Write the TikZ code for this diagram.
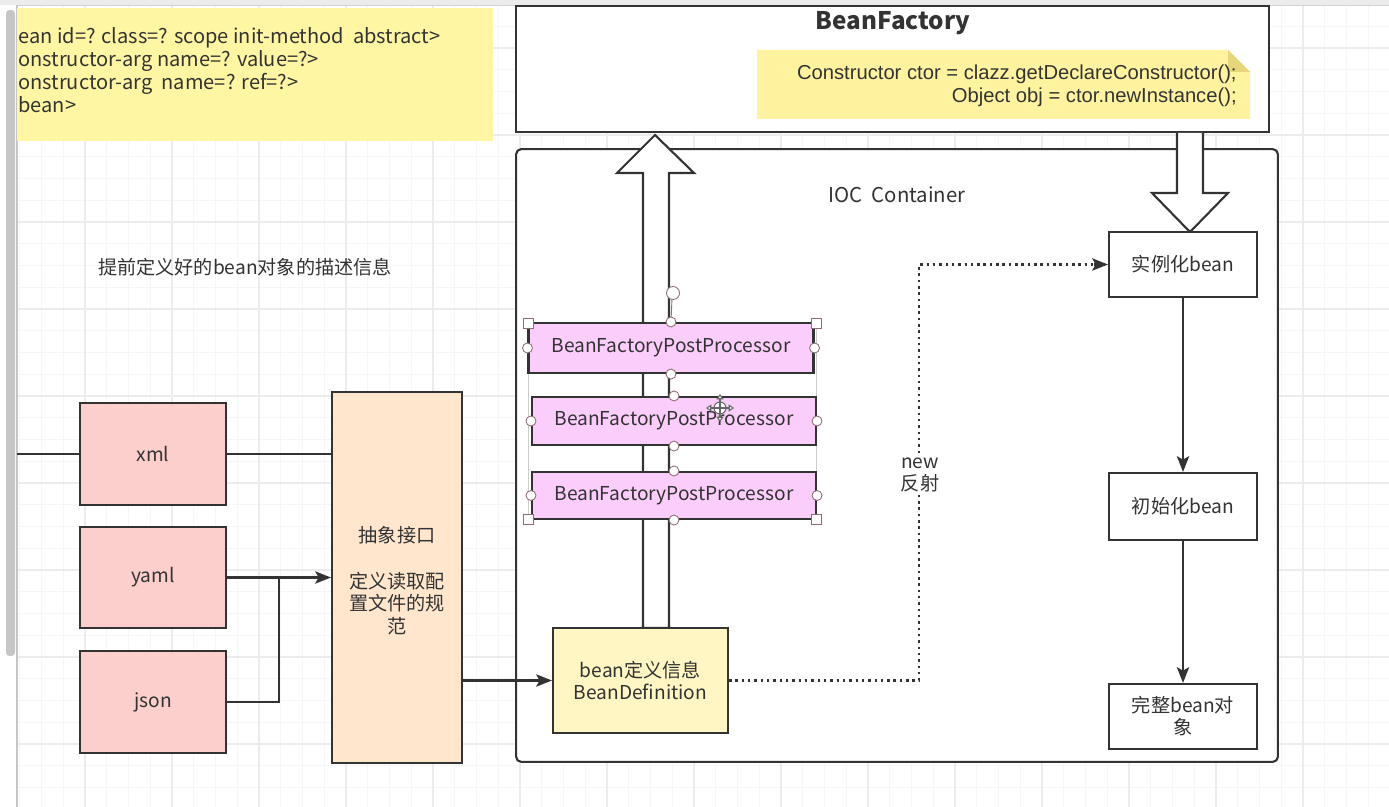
\documentclass[tikz,border=0pt]{standalone}
\usepackage{fontspec}
\setmainfont{Noto Sans CJK SC}
\newfontfamily\codefont{Liberation Sans}
\usetikzlibrary{arrows.meta,calc}
\definecolor{ln}{HTML}{333333}
\definecolor{txt}{HTML}{333333}
\definecolor{notey}{HTML}{FFF6A3}
\definecolor{notey2}{HTML}{FFF3A0}
\definecolor{foldy}{HTML}{E6D77A}
\definecolor{defy}{HTML}{FFF6C4}
\definecolor{pinkp}{HTML}{FACDFA}
\definecolor{pinkr}{HTML}{FCCFCC}
\definecolor{peach}{HTML}{FFE6CC}
\definecolor{gminor}{HTML}{F6F6F6}
\definecolor{gmajor}{HTML}{ECECEC}
\definecolor{handle}{HTML}{8C7070}
\tikzset{
  box/.style={draw=ln, line width=1.2pt, inner sep=0pt, align=center, text=txt},
  conn/.style={draw=ln, line width=1.2pt},
  arr/.style={conn, -{Stealth[length=9pt,width=7pt,inset=2pt]}},
  dotline/.style={draw=ln, line width=1.4pt, dash pattern=on 1.4pt off 2.2pt},
  hollow/.style={draw=ln, line width=1.2pt, fill=white, line join=miter},
  hcirc/.style={circle, draw=handle, fill=white, line width=0.5pt, minimum size=0.2cm, inner sep=0pt},
  hsq/.style={rectangle, draw=handle, fill=white, line width=0.5pt, minimum size=0.2cm, inner sep=0pt},
  fs/.style={font=\fontsize{10.9}{13}\selectfont}
}
\begin{document}
\begin{tikzpicture}[x=0.02cm,y=-0.02cm, fs]
\useasboundingbox (0,0) rectangle (1389,807);
\fill[white] (0,0) rectangle (1389,807);
% grid
\foreach \k in {-3,...,59} {
  \pgfmathsetmacro\xx{85+21.75*\k}
  \draw[gminor, line width=0.5pt] (\xx,5) -- (\xx,807);
}
\foreach \k in {-9,...,26} {
  \pgfmathsetmacro\yy{222+21.75*\k}
  \draw[gminor, line width=0.5pt] (17,\yy) -- (1389,\yy);
}
\foreach \k in {0,...,15} {
  \pgfmathsetmacro\xx{85+87*\k}
  \draw[gmajor, line width=0.6pt] (\xx,5) -- (\xx,807);
}
\foreach \k in {-2,...,6} {
  \pgfmathsetmacro\yy{222+87*\k}
  \draw[gmajor, line width=0.6pt] (17,\yy) -- (1389,\yy);
}
\fill[gray!15] (0,0) rectangle (1389,5);
\draw[gray!35, line width=0.5pt] (0,5) -- (1389,5);
\fill[white] (0,5) rectangle (16,807);
\fill[gray!45, rounded corners=2pt] (6,10) rectangle (15,656);
\draw[gray!45, line width=0.6pt] (17,5) -- (17,807);

% top-left note
\fill[notey] (17,8) rectangle (493,141);
\node[anchor=north west, align=left, text=txt, inner sep=0pt, font=\fontsize{11.4}{13.1}\selectfont] (xmlnote) at (18,27)
 {ean id=? class=? scope init-method~ abstract>\\
  onstructor-arg name=? value=?>\\
  onstructor-arg~ name=? ref=?>\\
  bean>};

% description text
\node[text=txt] (desc) at (245,267) {提前定义好的bean对象的描述信息};

% IOC container
\node[box, rounded corners=3pt, minimum width=15.24cm, minimum height=12.26cm, fill=white] (ioc) at (897,455.5) {};
\node[text=txt, font=\fontsize{11.6}{14}\selectfont] (ioclabel) at (897,195) {IOC~ Container};

% BeanFactory
\node[box, minimum width=15.06cm, minimum height=2.52cm, fill=white] (bf) at (892.5,69) {};
\node[text=txt, font=\fontsize{13.8}{16}\selectfont\bfseries] (bftitle) at (893,23) {BeanFactory};
\fill[notey2] (757,50) -- (1228,50) -- (1250,72) -- (1250,119) -- (757,119) -- cycle;
\fill[foldy] (1228,50) -- (1250,72) -- (1228,72) -- cycle;
\node[anchor=east, align=right, text=txt, inner sep=0pt, font=\codefont\fontsize{11.5}{13.1}\selectfont] (code) at (1237,86)
 {Constructor ctor = clazz.getDeclareConstructor();\\Object obj = ctor.newInstance();};

% hollow up arrow (BeanDefinition -> BeanFactory)
\path[hollow] (643,628) -- (643,173) -- (617,173) -- (655,135) -- (694,173) -- (669,173) -- (669,628) -- cycle;
% hollow down arrow (BeanFactory -> instantiate)
\fill[white] (1177,133) -- (1177,193) -- (1152,193) -- (1190,232) -- (1228,193) -- (1203,193) -- (1203,133) -- cycle;
\draw[ln, line width=1.2pt, line join=miter] (1177,133) -- (1177,193) -- (1152,193) -- (1190,232) -- (1228,193) -- (1203,193) -- (1203,133);

% selection frame
\draw[gray!40, line width=0.4pt] (528,323) rectangle (816,519);
% processors
\node[box, fill=pinkp, minimum width=5.7cm, minimum height=1.0cm] (p1) at (671,348) {BeanFactoryPostProcessor};
\node[box, fill=pinkp, minimum width=5.68cm, minimum height=0.96cm] (p2) at (674,421) {BeanFactoryPostProcessor};
\node[box, fill=pinkp, minimum width=5.68cm, minimum height=0.94cm] (p3) at (674,495.5) {BeanFactoryPostProcessor};
% handles
\draw[handle, line width=0.5pt] (672,298) -- (p1.north);
\node[hcirc, minimum size=0.26cm] (rot) at (673,293) {};
\foreach \n in {p1,p2,p3} {
  \node[hcirc] at (\n.north) {};
  \node[hcirc] at (\n.south) {};
  \node[hcirc] at (\n.west) {};
  \node[hcirc] at (\n.east) {};
}
\node[hsq] at (528,323) {};
\node[hsq] at (816,323) {};
\node[hsq] at (528,519) {};
\node[hsq] at (816,519) {};
% move cursor
\begin{scope}[line width=0.6pt]
\draw[gray!80!black, fill=white] (720,408) circle (6);
\draw[gray!80!black, {Triangle[length=3pt,width=4pt,fill=white]}-{Triangle[length=3pt,width=4pt,fill=white]}] (706,408) -- (734,408);
\draw[gray!80!black, {Triangle[length=3pt,width=4pt,fill=white]}-{Triangle[length=3pt,width=4pt,fill=white]}] (720,394) -- (720,422);
\end{scope}

% left sources
\node[box, fill=pinkr, minimum width=2.92cm, minimum height=2.04cm] (xml) at (153,454) {xml};
\node[box, fill=pinkr, minimum width=2.92cm, minimum height=2.02cm] (yaml) at (153,577.5) {yaml};
\node[box, fill=pinkr, minimum width=2.92cm, minimum height=2.04cm] (json) at (153,702) {json};
\node[box, fill=peach, minimum width=2.6cm, minimum height=7.42cm] (abs) at (397,577.5) {};
\node[text=txt, align=center, font=\fontsize{10.9}{13}\selectfont, anchor=north] (abstext) at (397,520)
 {抽象接口\\[13pt]定义读取配\\置文件的规\\范};

% BeanDefinition
\node[box, fill=defy, minimum width=3.5cm, minimum height=2.1cm, font=\fontsize{10.9}{13}\selectfont] (def) at (640.5,680.5) {bean定义信息\\BeanDefinition};

% right column
\node[box, fill=white, minimum width=2.96cm, minimum height=1.3cm] (inst) at (1183,264.5) {实例化bean};
\node[box, fill=white, minimum width=2.96cm, minimum height=1.34cm] (init) at (1183,506.5) {初始化bean};
\node[box, fill=white, minimum width=2.96cm, minimum height=1.3cm, font=\fontsize{10.9}{12.5}\selectfont] (full) at (1183,716.5) {完整bean对\\象};

% connectors
\coordinate (leftin) at (17,454);
\coordinate (merge) at (279,577.5);
\coordinate (jog) at (919,470);
\draw[conn] (leftin) -- (xml.west);
\draw[conn] (xml.east) -- (xml.east -| abs.west);
\draw[arr] (yaml.east) -- (abs.west);
\draw[conn] (json.east) -| (merge);
\draw[arr] (abs.east |- def.west) -- (def.west);
\draw[arr] (inst.south) -- (init.north);
\draw[arr] (init.south) -- (full.north);
\draw[dotline] (def.east) -| (jog) |- ($(inst.west)+(-14,0)$);
\draw[arr] ($(inst.west)+(-14,0)$) -- (inst.west);
\node[fill=white, text=txt, align=center, inner sep=1pt, font=\fontsize{10.9}{13}\selectfont] (newlbl) at (920,475) {new\\反射};
\end{tikzpicture}
\end{document}
